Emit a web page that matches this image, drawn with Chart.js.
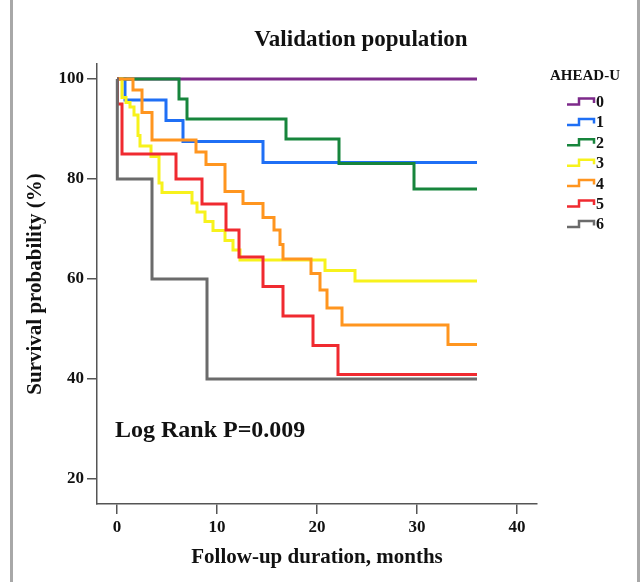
<!DOCTYPE html>
<html>
<head>
<meta charset="utf-8">
<script src="https://cdn.jsdelivr.net/npm/chart.js@4.4.1/dist/chart.umd.min.js"></script>
<style>
  html, body { margin: 0; padding: 0; background: #fff; }
  #wrap { width: 643px; height: 582px; }
</style>
</head>
<body>
<div id="wrap"><canvas id="km" width="643" height="582"></canvas></div>
<script>
// Kaplan-Meier curves (months, survival %)
const groups = ['0', '1', '2', '3', '4', '5', '6'];
const colors = ['#7d2a8a', '#1f6ff5', '#17853c', '#f7f21c', '#ff951f', '#f02a30', '#6b6b6b'];

const t0 = [0, 36];
const s0 = [100, 100];
const t1 = [0, 0.8, 4.9, 6.6, 14.6, 36];
const s1 = [100, 95.8, 91.7, 87.5, 83.3, 83.3];
const t2 = [0, 6.2, 7.0, 16.9, 22.2, 29.7, 36];
const s2 = [100, 96, 92, 88, 83.1, 78, 78];
const t3 = [0, 0.5, 0.9, 1.3, 1.7, 2.1, 2.3, 3.4, 4.2, 4.5, 7.5, 8.0, 8.8, 9.6, 10.8, 11.6, 12.3, 20.8, 23.8, 36];
const s3 = [100, 96.3, 95.3, 94.4, 92.8, 88.7, 86.6, 84.5, 79.2, 77.3, 75.2, 73.4, 71.5, 69.7, 67.7, 65.8, 63.8, 61.7, 59.6, 59.6];
const t4 = [0, 1.6, 2.5, 3.5, 7.9, 8.9, 10.8, 12.6, 14.6, 15.7, 16.3, 16.6, 19.4, 20.3, 21.0, 22.5, 33.1, 36];
const s4 = [100, 97.8, 93.3, 87.8, 85.4, 82.9, 77.5, 75.1, 72.3, 69.8, 66.9, 64.0, 61.1, 57.8, 54.2, 50.8, 46.9, 46.9];
const t5 = [0, 0.05, 0.5, 5.9, 8.5, 10.9, 12.2, 14.6, 16.6, 19.6, 22.1, 36];
const s5 = [100, 95, 85, 80, 75, 69.8, 64.4, 58.5, 52.6, 46.7, 40.9, 40.9];
const t6 = [0, 0.03, 3.5, 9.0, 36];
const s6 = [100, 80, 60, 40, 40];

const xTicks = [0, 10, 20, 30, 40];
const yTicks = [20, 40, 60, 80, 100];

const times = [t0, t1, t2, t3, t4, t5, t6];
const surv = [s0, s1, s2, s3, s4, s5, s6];

const serif = "'Liberation Serif', 'Times New Roman', 'DejaVu Serif', serif";

const datasets = groups.map((g, i) => ({
  label: g,
  data: times[i].map((t, k) => ({ x: t, y: surv[i][k] })),
  borderColor: colors[i],
  borderWidth: 3,
  stepped: 'before',
  pointRadius: 0,
  fill: false,
  order: groups.length - i
}));

// title, log-rank note, legend and the outer frame
const decor = {
  id: 'decor',
  afterDraw(chart) {
    const ctx = chart.ctx;
    const { x, y } = chart.scales;
    ctx.save();
    ctx.fillStyle = '#111';
    ctx.font = 'bold 23px ' + serif;
    ctx.textAlign = 'center';
    ctx.textBaseline = 'alphabetic';
    ctx.fillText('Validation population', 361, 46);

    ctx.font = 'bold 24px ' + serif;
    ctx.textAlign = 'left';
    ctx.fillText('Log Rank P=0.009', x.getPixelForValue(-0.2), y.getPixelForValue(28.4));

    ctx.font = 'bold 15px ' + serif;
    ctx.textAlign = 'center';
    ctx.fillText('AHEAD-U', 585, 80);

    ctx.font = 'bold 16px ' + serif;
    ctx.textAlign = 'left';
    groups.forEach((g, i) => {
      const cy = 101 + i * 20.4;
      ctx.strokeStyle = colors[i];
      ctx.lineWidth = 2.5;
      ctx.beginPath();
      ctx.moveTo(567, cy + 3.5);
      ctx.lineTo(579, cy + 3.5);
      ctx.lineTo(579, cy - 2.5);
      ctx.lineTo(594, cy - 2.5);
      ctx.lineTo(594, cy + 2);
      ctx.stroke();
      ctx.fillStyle = '#111';
      ctx.fillText(g, 596, cy + 6);
    });

    ctx.fillStyle = '#a8a8a8';
    ctx.fillRect(10, 0, 3, chart.height);
    ctx.fillRect(637, 0, 3, chart.height);
    ctx.restore();
  }
};

new Chart(document.getElementById('km').getContext('2d'), {
  type: 'line',
  data: { datasets: datasets },
  options: {
    responsive: false,
    animation: false,
    layout: { padding: { left: 0, right: 106, top: 64, bottom: 0 } },
    plugins: { legend: { display: false }, tooltip: { enabled: false } },
    scales: {
      x: {
        type: 'linear',
        min: -2,
        max: 42,
        afterFit(s) { s.height = 78; },
        afterBuildTicks(s) { s.ticks = xTicks.map(v => ({ value: v })); },
        grid: { drawOnChartArea: false, color: '#555', lineWidth: 1.5, tickLength: 10 },
        border: { color: '#555', width: 1.5 },
        ticks: { color: '#111', font: { family: serif, size: 17, weight: 'bold' }, padding: 3, maxRotation: 0 },
        title: {
          display: true,
          text: 'Follow-up duration, months',
          color: '#111',
          font: { family: serif, size: 21, weight: 'bold' },
          padding: { top: 0, bottom: 12 }
        }
      },
      y: {
        type: 'linear',
        min: 15,
        max: 103,
        afterFit(s) { s.width = 97; },
        afterBuildTicks(s) { s.ticks = yTicks.map(v => ({ value: v })); },
        grid: { drawOnChartArea: false, color: '#555', lineWidth: 1.5, tickLength: 10 },
        border: { color: '#555', width: 1.5 },
        ticks: { color: '#111', font: { family: serif, size: 17, weight: 'bold' }, padding: 3 },
        title: {
          display: true,
          text: 'Survival probability (%)',
          color: '#111',
          font: { family: serif, size: 21, weight: 'bold' },
          padding: { top: 23, bottom: 0 }
        }
      }
    }
  },
  plugins: [decor]
});
</script>
</body>
</html>
